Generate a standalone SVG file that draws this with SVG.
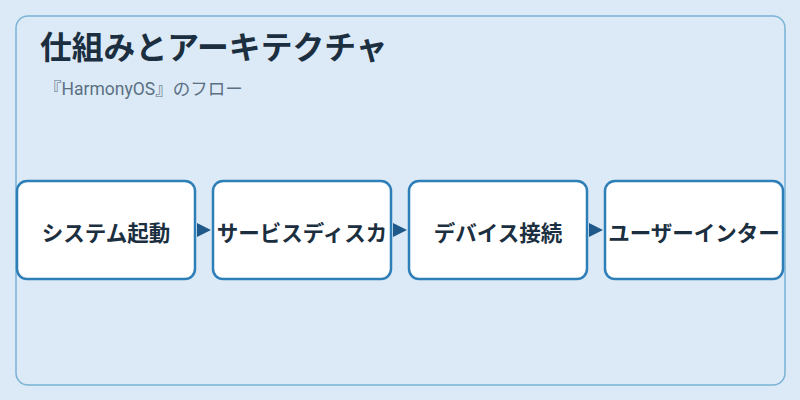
<svg xmlns="http://www.w3.org/2000/svg" width="800" height="400" viewBox="0 0 800 400">
<style>
.box{fill:#ffffff;stroke:#2e7fb8;stroke-width:2.5}
.lbl{font-family:"Noto Sans CJK JP","Noto Sans",sans-serif;font-weight:bold;font-size:21.5px;fill:#1b2f40;text-anchor:middle;dominant-baseline:central}
.conn{stroke:#1f5a8a;stroke-width:0;fill:none}
</style>
<defs>
<marker id="arr" viewBox="0 0 10 10" refX="10" refY="5" markerWidth="14" markerHeight="16" markerUnits="userSpaceOnUse" orient="auto">
<path d="M0,0 L10,5 L0,10 Z" fill="#1f5a8a"/>
</marker>
<clipPath id="c2"><rect x="213" y="181" width="178" height="98" rx="10"/></clipPath>
<clipPath id="c4"><rect x="605" y="181" width="178" height="98" rx="10"/></clipPath>
</defs>
<rect x="0" y="0" width="800" height="400" fill="#dbeaf6"/>
<rect x="16" y="16" width="769" height="369" rx="12" fill="#dbeaf6" stroke="#7ab3d6" stroke-width="1.5"/>
<text x="40" y="59" font-family="'Noto Sans CJK JP','Noto Sans',sans-serif" font-weight="bold" font-size="31.8" fill="#1b2f40">仕組みとアーキテクチャ</text>
<text x="44" y="95" font-family="Roboto,'Noto Sans CJK JP',sans-serif" font-size="17.5" fill="#5b7083">『HarmonyOS』のフロー</text>
<g id="connectors">
<line class="conn" x1="197" y1="230" x2="211" y2="230" marker-end="url(#arr)"/>
<line class="conn" x1="393" y1="230" x2="407" y2="230" marker-end="url(#arr)"/>
<line class="conn" x1="589" y1="230" x2="603" y2="230" marker-end="url(#arr)"/>
</g>
<g id="node1"><rect class="box" x="17" y="181" width="178" height="98" rx="10"/><text class="lbl" x="106" y="231">システム起動</text></g>
<g id="node2"><rect class="box" x="213" y="181" width="178" height="98" rx="10"/><text class="lbl" x="302" y="231" clip-path="url(#c2)">サービスディスカ</text></g>
<g id="node3"><rect class="box" x="409" y="181" width="178" height="98" rx="10"/><text class="lbl" x="498" y="231">デバイス接続</text></g>
<g id="node4"><rect class="box" x="605" y="181" width="178" height="98" rx="10"/><text class="lbl" x="694" y="231" clip-path="url(#c4)">ユーザーインター</text></g>
</svg>
